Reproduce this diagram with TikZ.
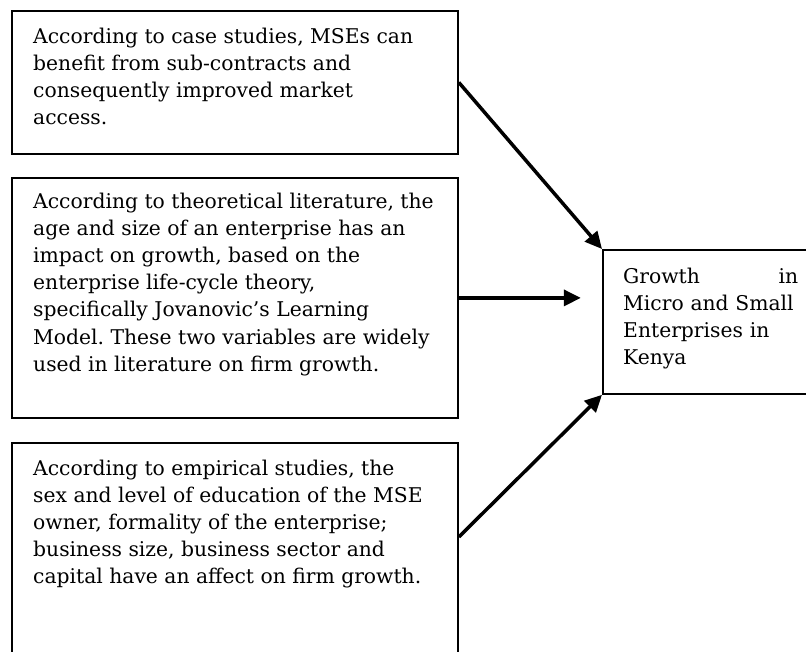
\documentclass[tikz,border=0pt]{standalone}
\usepackage{fontspec}
\setmainfont{DejaVu Serif}
\usetikzlibrary{arrows.meta}
\frenchspacing

\tikzset{
  factor/.style={draw, line width=1.8pt, rectangle, inner sep=0pt, anchor=north west},
  txt/.style={inner sep=0pt, anchor=north west, align=left, font=\fontsize{20.3}{27.2}\selectfont},
  link/.style={line width=3.5pt, -{Triangle[length=17pt,width=16pt]}}
}

\begin{document}
\begin{tikzpicture}[x=1pt, y=-1pt]
		\useasboundingbox (0,0) rectangle (806,651);
		\clip (0,0) rectangle (806,651);

		% Left column: the three sources
		\node[factor, minimum width=446pt, minimum height=143pt] (caseBox) at (11,10) {};
		\node[txt] (caseTxt) at (33,27.5) {According to case studies, MSEs can\\
			benefit from sub-contracts and\\
			consequently improved market\\
			access.};

		\node[factor, minimum width=446pt, minimum height=240pt] (theoryBox) at (11,177) {};
		\node[txt] (theoryTxt) at (33,192.5) {According to theoretical literature, the\\
			age and size of an enterprise has an\\
			impact on growth, based on the\\
			enterprise life-cycle theory,\\
			specifically Jovanovic's Learning\\
			Model. These two variables are widely\\
			used in literature on firm growth.};

		\node[factor, minimum width=446pt, minimum height=260pt] (empiricBox) at (11,442) {};
		\node[txt] (empiricTxt) at (33,459.5) {According to empirical studies, the\\
			sex and level of education of the MSE\\
			owner, formality of the enterprise;\\
			business size, business sector and\\
			capital have an affect on firm growth.};

		% Right: the outcome
		\node[factor, minimum width=260pt, minimum height=144pt] (growthBox) at (602,249) {};
		\node[txt, text width=175pt] (growthTxt) at (623,267.5) {Growth\hfill in\\
			Micro and Small\\
			Enterprises in\\
			Kenya};

		% Links
		\coordinate (empiricOut) at ([yshift=-95pt]empiricBox.north east);
		\coordinate (theoryIn) at ([xshift=122pt]theoryBox.east);
		\draw[link] (caseBox.east) -- (growthBox.north west);
		\draw[link] (theoryBox.east) -- (theoryIn);
		\draw[link] (empiricOut) -- (growthBox.south west);
	\end{tikzpicture}
\end{document}
